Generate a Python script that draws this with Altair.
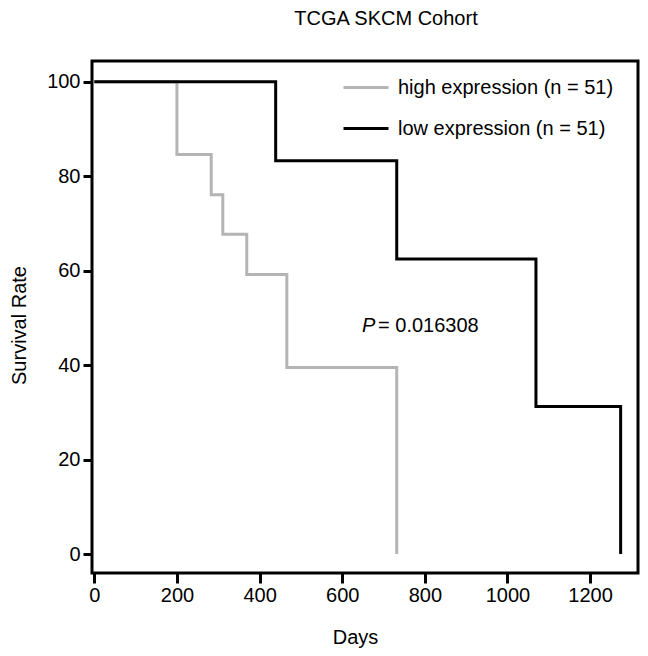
import altair as alt
import pandas as pd

FONT = "Liberation Sans"

# Kaplan-Meier steps
high_days = [0, 200, 283, 311, 369, 466, 732]
high_surv = [100, 84.6, 76.1, 67.7, 59.2, 39.5, 0]
low_days = [0, 439, 732, 1069, 1274]
low_surv = [100, 83.3, 62.5, 31.25, 0]

groups = ["high expression (n = 51)", "low expression (n = 51)"]
colors = ["#b4b4b4", "#000000"]

x_ticks = [0, 200, 400, 600, 800, 1000, 1200]
y_ticks = [0, 20, 40, 60, 80, 100]

p_label = ["P"]
p_value = ["= 0.016308"]
p_x = [648]
p_y = [48.4]

rows = []
for i, (d, s) in enumerate(zip(high_days, high_surv)):
    rows.append({"group": groups[0], "days": d, "surv": s, "order": i})
for i, (d, s) in enumerate(zip(low_days, low_surv)):
    rows.append({"group": groups[1], "days": d, "surv": s, "order": i})
curves = pd.DataFrame(rows)

annot = pd.DataFrame({"p": p_label, "val": p_value, "x": p_x, "y": p_y})

x_scale = alt.Scale(domain=[-5.6, 1316], nice=False, zero=False)
y_scale = alt.Scale(domain=[-4.0, 104.4], nice=False, zero=False)

x_axis = alt.Axis(
    values=x_ticks, format="d", title="Days", domain=False, grid=False,
    tickSize=10, tickWidth=3, tickColor="black",
    labelFont=FONT, labelFontSize=20, labelColor="black", labelPadding=2,
    titleFont=FONT, titleFontSize=20, titleFontWeight="normal", titleColor="black",
    titleX=263, titleY=70, titleBaseline="alphabetic", titleAlign="center",
)
y_axis = alt.Axis(
    values=y_ticks, format="d", title="Survival Rate", domain=False, grid=False,
    tickSize=9, tickWidth=3, tickColor="black",
    labelFont=FONT, labelFontSize=20, labelColor="black", labelPadding=3,
    titleFont=FONT, titleFontSize=20, titleFontWeight="normal", titleColor="black",
    titleX=-67, titleY=264, titleBaseline="alphabetic", titleAlign="center",
    titleAngle=270,
)

lines = alt.Chart(curves).mark_line(interpolate="step-after", strokeWidth=3).encode(
    x=alt.X("days:Q", scale=x_scale, axis=x_axis),
    y=alt.Y("surv:Q", scale=y_scale, axis=y_axis),
    color=alt.Color(
        "group:N",
        scale=alt.Scale(domain=groups, range=colors),
        legend=alt.Legend(
            title=None, orient="none", legendX=250, legendY=2.5,
            symbolType="stroke", symbolSize=2025, symbolStrokeWidth=3,
            labelFont=FONT, labelFontSize=20, labelColor="black", labelLimit=400,
            labelOffset=8, rowPadding=7, padding=0,
        ),
    ),
    order="order:Q",
)

ptext = alt.Chart(annot).mark_text(
    font=FONT, fontSize=20, fontStyle="italic", align="left", baseline="middle", color="black"
).encode(
    x=alt.X("x:Q", scale=x_scale),
    y=alt.Y("y:Q", scale=y_scale),
    text="p:N",
)
vtext = alt.Chart(annot).mark_text(
    font=FONT, fontSize=20, align="left", baseline="middle", color="black", dx=16
).encode(
    x=alt.X("x:Q", scale=x_scale),
    y=alt.Y("y:Q", scale=y_scale),
    text="val:N",
)

chart = alt.layer(lines, ptext, vtext).properties(
    width=546,
    height=512,
    autosize=alt.AutoSizeParams(type="none"),
    padding={"left": 84, "top": 53, "right": 2, "bottom": 75},
    background="white",
    title=alt.TitleParams(
        text="TCGA SKCM Cohort", font=FONT, fontSize=20, fontWeight="normal",
        color="black", anchor="middle", dx=21, offset=32,
    ),
).configure_view(stroke="black", strokeWidth=3)

chart.save("out.html", embed_options={"renderer": "svg", "actions": False})
